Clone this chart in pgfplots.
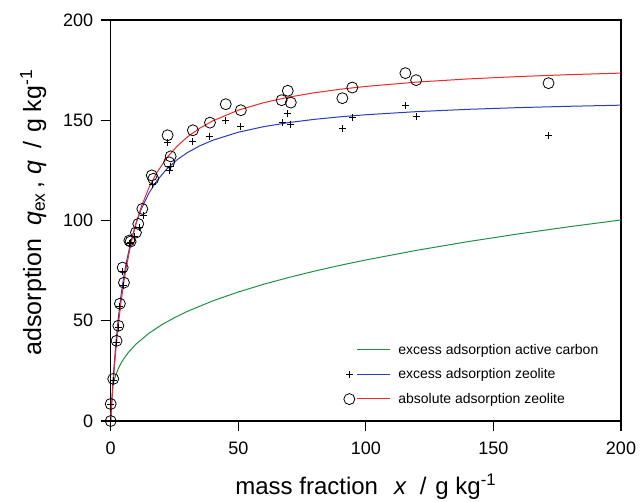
\documentclass[border=0pt]{standalone}
\usepackage{pgfplots}
\pgfplotsset{compat=1.18}
\usepackage{fontspec}
\setmainfont{Liberation Sans}
\definecolor{cgreen}{RGB}{30,145,70}
\definecolor{cblue}{RGB}{40,60,190}
\definecolor{cred}{RGB}{240,40,40}
\newcommand{\legline}[1]{\textcolor{#1}{\rule[0.3em]{33pt}{1pt}}\hspace{8pt}}
\pgfplotsset{
  legnone/.style={legend image code/.code={%
    \path[draw=none,fill=none] (-6pt,-6pt) rectangle (6pt,6pt);}},
  legplus/.style={legend image code/.code={%
    \path[draw=none,fill=none] (-6pt,-6pt) rectangle (6pt,6pt);
    \draw[color=black, line width=1pt] (-3.5pt,0) -- (3.5pt,0) (0,-3.5pt) -- (0,3.5pt);}},
  legcirc/.style={legend image code/.code={%
    \path[draw=none,fill=none] (-6pt,-6pt) rectangle (6pt,6pt);
    \draw[color=black, fill=none, line width=0.8pt] (0,0) circle (5.5pt);}},
}
\begin{document}
\begin{tikzpicture}
\useasboundingbox (-110.7pt,-81pt) rectangle (529.3pt,421pt);
\begin{axis}[
  scale only axis,
  width=510.3pt, height=401pt,
  xmin=0, xmax=200, ymin=0, ymax=200,
  xtick={0,50,100,150,200}, ytick={0,50,100,150,200},
  tick align=outside, xtick pos=bottom, ytick pos=left,
  major tick length=10pt,
  axis line style={line width=1.1pt},
  every tick/.style={black, line width=1.1pt},
  ticklabel style={font=\fontsize{18}{20}\selectfont},
  xticklabel style={yshift=-7pt},
  yticklabel style={xshift=-4pt},
  /pgf/number format/assume math mode=true,
  xlabel={mass fraction\hspace{16pt}\textit{x}\hspace{13pt}/\hspace{9pt}g kg\textsuperscript{-1}},
  ylabel={adsorption\hspace{13pt}\textit{q}\textsubscript{ex}\,, \textit{q}\hspace{12pt}/\hspace{9pt}g kg\textsuperscript{-1}},
  xlabel style={font=\fontsize{24}{26}\selectfont, at={(axis description cs:0.5,-0.165)}, anchor=center},
  ylabel style={font=\fontsize{25}{27}\selectfont, at={(axis description cs:-0.152,0.52)}, anchor=center, rotate=0},
  legend style={draw=none, fill=none, at={(axis cs:91.1,39.5)}, anchor=north west,
    font=\fontsize{14}{16}\selectfont, row sep=9pt, inner sep=0pt,
    nodes={inner sep=2pt}},
  legend cell align=left,
  clip=false,
]
% excess adsorption zeolite (points)
\addplot[only marks, mark=+, mark size=3.5pt, black, line width=1pt, forget plot] coordinates {
(0,0) (0,8) (1,20) (2.3,39) (3,46.5) (3.6,57) (4.7,74.5) (5.2,67.5) (7.3,88.5) (7.8,89)
(9.3,92) (11.1,96.7) (12.8,102.5) (16.3,118) (22.3,138.8) (22.9,124.7) (23.5,127)
(32.2,139.3) (38.9,142) (45.1,150) (51,146.7) (67.4,148.8) (69.4,153.5) (70.6,147.7)
(90.8,146) (94.7,151.3) (115.7,157.2) (119.7,151.8) (171.6,142.6)};
% absolute adsorption zeolite (points)
\addplot[only marks, mark=o, mark size=5.5pt, black, line width=0.8pt, forget plot] coordinates {
(0,0) (0,8.5) (1,21) (2.3,40) (3,47.5) (3.6,58.5) (4.7,76.5) (5.2,69) (7.3,90) (7.8,89.5)
(9.9,94) (10.8,98.3) (12.4,105.8) (16.1,122.5) (16.7,120.8) (22.3,142.5) (22.9,129)
(23.5,132) (32.2,145) (38.9,148.8) (45.1,158) (51,155) (67,160) (69.4,164.7) (70.6,158.8)
(90.8,161) (94.7,166.3) (115.5,173.5) (119.7,170) (171.6,168.5)};
% excess adsorption active carbon (curve)
\addplot[color=cgreen, mark=none, line width=1pt, legnone] coordinates {
(1,18.40) (1.5,20.95) (2,22.97) (3,26.15) (4,28.67) (5,30.80) (7,34.30) (10,38.44)
(15,43.77) (20,47.99) (25,51.54) (30,54.64) (40,59.91) (50,64.34) (60,68.21)
(70,71.66) (80,74.78) (90,77.66) (100,80.32) (120,85.14) (140,89.45) (160,93.35)
(180,96.94) (200,100.26)};
\addlegendentry{\legline{cgreen}excess adsorption active carbon}
% excess zeolite curve
\addplot[color=cblue, mark=none, line width=1pt, legplus] coordinates {
(0,0) (0.5,11.70) (1,21.82) (2,38.48) (3,51.61) (4,62.23) (5,70.99) (6,78.35) (8,90.01)
(10,98.84) (12,105.75) (15,113.70) (18,119.70) (22,125.73) (26,130.27) (30,133.82)
(35,137.29) (40,140.02) (50,144.02) (60,146.81) (70,148.88) (80,150.47) (90,151.72)
(100,152.74) (120,154.30) (140,155.44) (160,156.30) (180,156.97) (200,157.52)};
\addlegendentry{\legline{cblue}excess adsorption zeolite}
% absolute zeolite curve
\addplot[color=cred, mark=none, line width=1pt, legcirc] coordinates {
(0,0) (0.5,10.28) (1,19.46) (2,35.14) (3,48.04) (4,58.84) (5,68.01) (6,75.90) (8,88.77)
(10,98.83) (12,106.90) (15,116.41) (18,123.74) (22,131.27) (26,137.03) (30,141.60)
(35,146.11) (40,149.69) (50,155.01) (60,158.78) (70,161.58) (80,163.74) (90,165.47)
(100,166.87) (120,169.03) (140,170.60) (160,171.80) (180,172.75) (200,173.51)};
\addlegendentry{\legline{cred}absolute adsorption zeolite}
\end{axis}
\end{tikzpicture}
\end{document}
